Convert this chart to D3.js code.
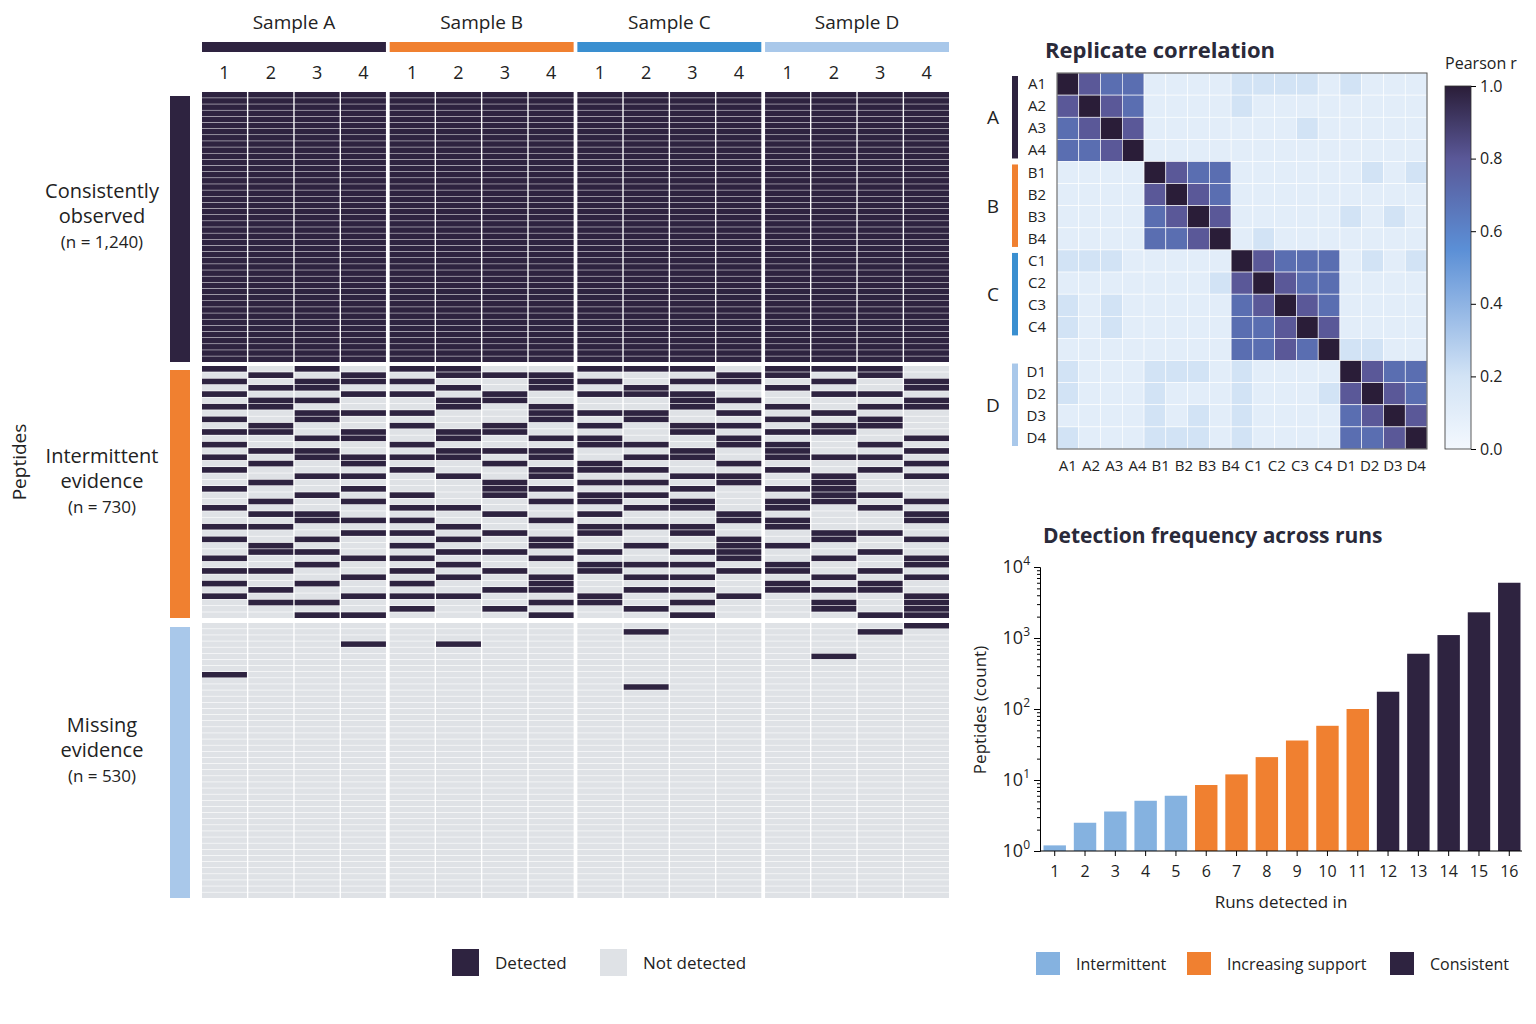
<!DOCTYPE html>
<html>
<head>
<meta charset="utf-8">
<script src="https://cdn.jsdelivr.net/npm/d3@7"></script>
<style>
  body { margin: 0; background: #fff; }
  svg { font-family: "Open Sans", "Noto Sans", sans-serif; }
</style>
</head>
<body>
<svg id="chart" width="1536" height="1024"></svg>
<script>
// ---- data ----
var samples = ['Sample A', 'Sample B', 'Sample C', 'Sample D'];
var sampleColors = ['#2e2340', '#f08030', '#3a8fd0', '#a9c8ea'];
var replicates = ['1', '2', '3', '4'];
var blockLabels = [['Consistently', 'observed', '(n = 1,240)'], ['Intermittent', 'evidence', '(n = 730)'], ['Missing', 'evidence', '(n = 530)']];
var blockColors = ['#2e2340', '#f08030', '#a9c8ea'];
var consistentRows = 44;
// intermittent rows: 16 runs, '1' = detected
var intermittent = [
  '1010110011101110', '0101011100011010', '1011100110110101', '0110010101001001',
  '1001101011100110', '0110011000110001', '1100010100101011', '0011100111010100',
  '1010000101001010', '0100101010110110', '1101011000101100', '0011010110010001',
  '1000100011011010', '0110011100101001', '1011110101101110', '0101001010010001',
  '1000100111001010', '0011010100110101', '0100001011010100', '1001001100101100',
  '0010101011000110', '0101000110101101', '1000110001101010', '0110001010010001',
  '0011100100011001', '1100010011101000', '0001101010100110', '1010010100010101',
  '0100100101011000', '0110011010110010', '1001100100010101', '0010010011101001',
  '1100101010011010', '0001010101100101', '1010100100001010', '0100001101101110',
  '1001110010010001', '0110000110100101', '0000101001000101', '0011000100100011'
];
var missingRows = 45;
// [row, run] of the few hits inside the missing block
var missingHits = [[8, 0], [3, 3], [3, 5], [1, 9], [10, 9], [5, 13], [1, 14], [0, 15]];

var corrLabels = ['A1','A2','A3','A4','B1','B2','B3','B4','C1','C2','C3','C4','D1','D2','D3','D4'];
var corrRowLabels = ['A1','A2','A3','A4','B1','B2','B3','B4','C1','C2','C3','C4','','D1','D2','D3','D4'];
var corrGroups = ['A', 'B', 'C', 'D'];
// r in tenths, X = 1.0
var corrRows = [
  'X8771111222212111', '8X871111211111111', '78X81111111211111', '778X1111111111111',
  '1111X877111111212', '11118X87111111111', '111178X8111112121', '1111778X121111111',
  '22211111X87771212', '111111128X8771111', '2121111178X871111', '21211111778X81111',
  '111111117787X2211', '2111222121111X877', '21112111211128X87', '111121212111178X8',
  '2111222121111778X'
];

var runs = ['1','2','3','4','5','6','7','8','9','10','11','12','13','14','15','16'];
var runCounts = [1.2, 2.5, 3.6, 5.1, 6.0, 8.5, 12, 21, 36, 58, 100, 175, 600, 1100, 2300, 6000];
var runClass = [0,0,0,0,0,1,1,1,1,1,1,2,2,2,2,2];
var runClassNames = ['Intermittent', 'Increasing support', 'Consistent'];
var runClassColors = ['#85b2e0', '#f08030', '#2e2340'];

var DARK = '#2e2340', LIGHT = '#dfe2e6', TEXT = '#222';

var svg = d3.select('#chart');

// ---- detection heatmap ----
var groupX = d3.scaleBand().domain(samples).range([202, 949]).paddingInner(0.02);
var repX = d3.scaleBand().domain(replicates).range([0, groupX.bandwidth()]).paddingInner(0.03);
function colX(i) { return groupX(samples[Math.floor(i / 4)]) + repX(replicates[i % 4]); }

var blockY = [[92, 362], [366, 618], [623, 898]];
var hm = svg.append('g');

samples.forEach(function (s, gi) {
  hm.append('text').attr('x', groupX(s) + groupX.bandwidth() / 2).attr('y', 29)
    .attr('text-anchor', 'middle').attr('font-size', 19).attr('fill', TEXT).text(s);
  hm.append('rect').attr('x', groupX(s)).attr('y', 42).attr('width', groupX.bandwidth()).attr('height', 10)
    .attr('fill', sampleColors[gi]);
  replicates.forEach(function (r) {
    hm.append('text').attr('x', groupX(s) + repX(r) + repX.bandwidth() / 2).attr('y', 79)
      .attr('text-anchor', 'middle').attr('font-size', 18).attr('fill', TEXT).text(r);
  });
});

function drawBlock(b, nRows, pad, cellFn) {
  var y = d3.scaleBand().domain(d3.range(nRows)).range(blockY[b]).paddingInner(pad);
  for (var r = 0; r < nRows; r++) {
    for (var c = 0; c < 16; c++) {
      hm.append('rect').attr('x', colX(c)).attr('y', y(r))
        .attr('width', repX.bandwidth()).attr('height', y.bandwidth())
        .attr('fill', cellFn(r, c) ? DARK : LIGHT);
    }
  }
}
drawBlock(0, consistentRows, 0.08, function () { return true; });
drawBlock(1, intermittent.length, 0.1, function (r, c) { return intermittent[r][c] === '1'; });
drawBlock(2, missingRows, 0.1, function (r, c) {
  return missingHits.some(function (h) { return h[0] === r && h[1] === c; });
});

blockLabels.forEach(function (lines, b) {
  hm.append('rect').attr('x', 170).attr('y', blockY[b][0] + 4).attr('width', 20)
    .attr('height', blockY[b][1] - blockY[b][0] - 4).attr('fill', blockColors[b]);
  var cy = (blockY[b][0] + blockY[b][1]) / 2;
  lines.forEach(function (t, i) {
    hm.append('text').attr('x', 102).attr('y', cy - 29 + i * 25)
      .attr('text-anchor', 'middle').attr('font-size', i === 2 ? 17 : 20).attr('fill', TEXT).text(t);
  });
});
hm.append('text').attr('transform', 'translate(26,462) rotate(-90)').attr('text-anchor', 'middle')
  .attr('font-size', 19).attr('fill', TEXT).text('Peptides');

var hl = svg.append('g');
[['Detected', DARK, 452], ['Not detected', LIGHT, 600]].forEach(function (d) {
  hl.append('rect').attr('x', d[2]).attr('y', 949).attr('width', 27).attr('height', 27).attr('fill', d[1]);
  hl.append('text').attr('x', d[2] + 43).attr('y', 969).attr('font-size', 17).attr('fill', TEXT).text(d[0]);
});

// ---- correlation matrix ----
var cm = svg.append('g');
var cx = d3.scaleBand().domain(d3.range(17)).range([1057, 1427]);
var cy = d3.scaleBand().domain(d3.range(17)).range([73, 449]);
var corrColor = d3.scaleLinear().domain([0, 0.1, 0.2, 0.55, 0.8, 1])
  .range(['#f3f8fe', '#e2edf9', '#d2e3f5', '#5b8fd6', '#5a5898', '#2a1d38']);
corrRows.forEach(function (row, i) {
  for (var j = 0; j < 17; j++) {
    var v = row[j] === 'X' ? 1 : +row[j] / 10;
    cm.append('rect').attr('x', cx(j)).attr('y', cy(i)).attr('width', cx.bandwidth()).attr('height', cy.bandwidth())
      .attr('fill', corrColor(v)).attr('stroke', '#fff').attr('stroke-width', 0.6);
  }
});
cm.append('rect').attr('x', 1057).attr('y', 73).attr('width', 370).attr('height', 376)
  .attr('fill', 'none').attr('stroke', '#555').attr('stroke-width', 1);
cm.append('text').attr('x', 1045).attr('y', 58).attr('font-size', 22).attr('font-weight', 'bold')
  .attr('fill', '#2a2a3a').text('Replicate correlation');
var colLab = d3.scalePoint().domain(corrLabels).range([cx(0) + cx.bandwidth() / 2, cx(16) + cx.bandwidth() / 2]);
corrLabels.forEach(function (l) {
  cm.append('text').attr('x', colLab(l)).attr('y', 471).attr('text-anchor', 'middle')
    .attr('font-size', 15).attr('fill', TEXT).text(l);
});
corrRowLabels.forEach(function (l, i) {
  if (!l) return;
  cm.append('text').attr('x', 1046).attr('y', cy(i) + cy.bandwidth() / 2 + 5).attr('text-anchor', 'end')
    .attr('font-size', 15).attr('fill', TEXT).text(l);
});
var grpRows = [[0, 4], [4, 8], [8, 12], [13, 17]];
corrGroups.forEach(function (g, gi) {
  var y0 = cy(grpRows[gi][0]) + 3, y1 = cy(grpRows[gi][1] - 1) + cy.bandwidth() - 3;
  cm.append('rect').attr('x', 1012).attr('y', y0).attr('width', 6).attr('height', y1 - y0).attr('fill', sampleColors[gi]);
  cm.append('text').attr('x', 993).attr('y', (y0 + y1) / 2 + 7).attr('text-anchor', 'middle')
    .attr('font-size', 19).attr('fill', TEXT).text(g);
});
// colour bar
var defs = svg.append('defs');
var grad = defs.append('linearGradient').attr('id', 'cbar').attr('x1', 0).attr('x2', 0).attr('y1', 1).attr('y2', 0);
d3.range(0, 1.01, 0.05).forEach(function (t) {
  grad.append('stop').attr('offset', t).attr('stop-color', corrColor(t));
});
cm.append('rect').attr('x', 1445).attr('y', 86).attr('width', 26).attr('height', 363)
  .attr('fill', 'url(#cbar)').attr('stroke', '#333').attr('stroke-width', 0.8);
var cbY = d3.scaleLinear().domain([0, 1]).range([449, 86]);
cm.append('g').attr('transform', 'translate(1471,0)')
  .call(d3.axisRight(cbY).tickValues([0, 0.2, 0.4, 0.6, 0.8, 1]).tickFormat(d3.format('.1f')).tickSize(5))
  .call(function (g) {
    g.select('.domain').remove();
    g.attr('font-size', 16).attr('font-family', '"Open Sans", sans-serif');
    g.selectAll('text').attr('fill', TEXT).attr('x', 9);
  });
cm.append('text').attr('x', 1481).attr('y', 69).attr('text-anchor', 'middle').attr('font-size', 16)
  .attr('fill', TEXT).text('Pearson r');

// ---- detection frequency bars ----
var bc = svg.append('g');
var bx = d3.scaleBand().domain(runs).range([1042, 1522]).paddingInner(0.26).paddingOuter(0.05);
var by = d3.scaleLog().domain([1, 10000]).range([851, 567]);
runs.forEach(function (r, i) {
  bc.append('rect').attr('x', bx(r)).attr('y', by(runCounts[i])).attr('width', bx.bandwidth())
    .attr('height', 851 - by(runCounts[i])).attr('fill', runClassColors[runClass[i]]);
});
bc.append('g').attr('transform', 'translate(1040,0)')
  .call(d3.axisLeft(by).tickValues([1, 10, 100, 1000, 10000]).tickFormat(function () { return ''; }).tickSize(6));
bc.append('g').attr('transform', 'translate(1040,0)')
  .call(d3.axisLeft(by).tickValues(by.ticks().filter(function (t) { return [1, 10, 100, 1000, 10000].indexOf(t) < 0; }))
    .tickFormat(function () { return ''; }).tickSize(3))
  .call(function (g) { g.select('.domain').remove(); });
[0, 1, 2, 3, 4].forEach(function (e) {
  var t = bc.append('text').attr('x', 1030).attr('y', by(Math.pow(10, e)) + 6).attr('text-anchor', 'end')
    .attr('font-size', 18).attr('fill', TEXT);
  t.append('tspan').text('10');
  t.append('tspan').attr('dy', -8).attr('font-size', 12).text(e);
});
bc.append('g').attr('transform', 'translate(0,851)')
  .call(d3.axisBottom(bx).tickSize(5))
  .call(function (g) {
    g.select('.domain').attr('d', 'M1040,0H1522');
    g.attr('font-size', 16).attr('font-family', '"Open Sans", sans-serif');
    g.selectAll('text').attr('fill', TEXT).attr('dy', '1.1em');
  });
bc.append('text').attr('x', 1281).attr('y', 908).attr('text-anchor', 'middle').attr('font-size', 17)
  .attr('fill', TEXT).text('Runs detected in');
bc.append('text').attr('transform', 'translate(986,710) rotate(-90)').attr('text-anchor', 'middle')
  .attr('font-size', 17).attr('fill', TEXT).text('Peptides (count)');
bc.append('text').attr('x', 1043).attr('y', 543).attr('font-size', 21).attr('font-weight', 'bold')
  .attr('fill', '#2a2a3a').text('Detection frequency across runs');
var legX = [1036, 1187, 1390];
runClassNames.forEach(function (n, i) {
  bc.append('rect').attr('x', legX[i]).attr('y', 952).attr('width', 24).attr('height', 23).attr('fill', runClassColors[i]);
  bc.append('text').attr('x', legX[i] + 40).attr('y', 970).attr('font-size', 16).attr('fill', TEXT).text(n);
});
</script>
</body>
</html>
